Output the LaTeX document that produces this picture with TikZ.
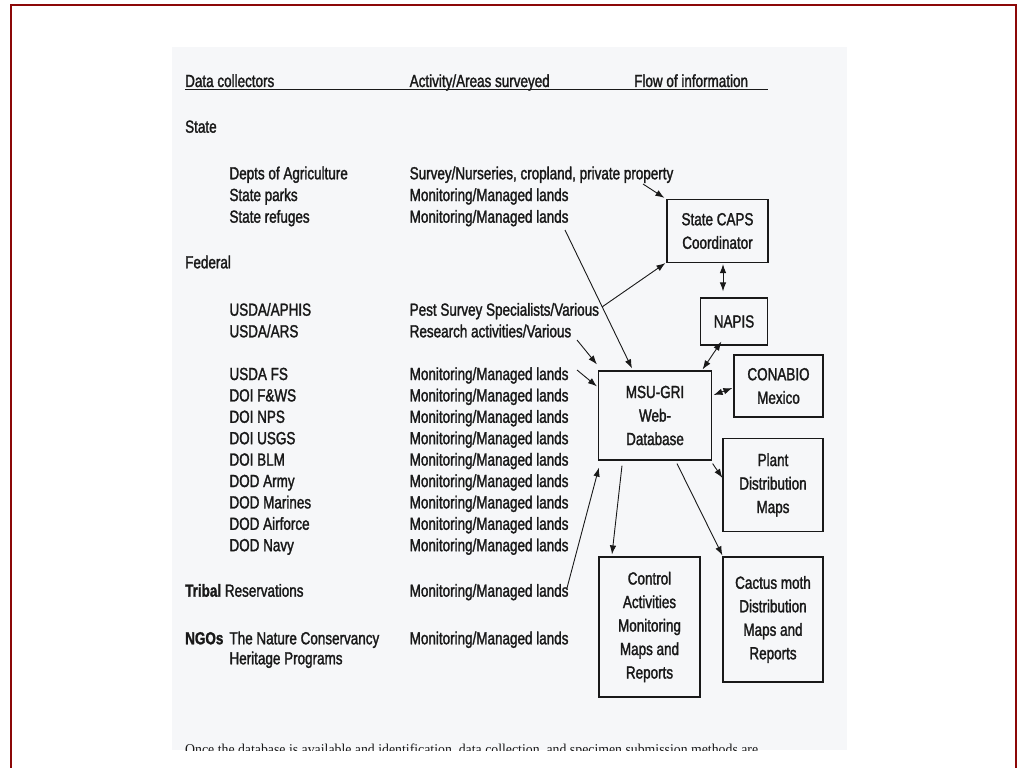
\documentclass[tikz,border=0pt]{standalone}
\usepackage{fontspec}
\setmainfont[FakeStretch=0.77,UprightFeatures={FakeBold=1.6},BoldFeatures={FakeBold=1.4}]{Liberation Sans}
\newfontfamily\bodyserif[FakeStretch=0.92]{Liberation Serif}
\usepackage{tikz}
\usetikzlibrary{calc}
\usetikzlibrary{arrows.meta}
\tikzset{>={Latex[length=9pt,width=6.5pt]}}
\usepackage{xcolor}
\definecolor{framecol}{RGB}{140,8,8}
\definecolor{pagecol}{RGB}{246,247,249}
\colorlet{inkcol}{black!90}
\newcommand\listfont{\fontsize{17.5}{21.5}\selectfont}
\newcommand\boxfont{\fontsize{17.5}{23.5}\selectfont}
\tikzset{
	txt/.style={anchor=base west,inner sep=0pt,font=\listfont,text=inkcol},
	flowbox/.style={draw=inkcol,line width=1.2pt,align=center,inner sep=0pt,font=\boxfont,text=inkcol},
	flow/.style={line width=0.9pt,draw=inkcol},
}

\begin{document}
\begin{tikzpicture}[x=1pt,y=-1pt]
	\useasboundingbox (0,0) rectangle (1018,768);
	\fill[pagecol] (172,47) rectangle (847,750);
	\draw[framecol,line width=2pt] (11,768) -- (11,5) -- (1016,5) -- (1016,768);
	
	% HEADINGS
	\node[txt] (hcoll) at (185,87) {Data collectors};
	\node[txt] (hact) at (409.5,87) {Activity/Areas surveyed};
	\node[txt] (hflow) at (634,87) {Flow of information};
	\draw[inkcol,line width=1.2pt] (185,89.5) -- (768,89.5);
	
	% STATE
	\node[txt] (state) at (185,132.7) {State};
	\node[txt] (agri) at (229.3,179.3) {Depts of Agriculture};
	\node[txt] (parks) at (229.3,201) {State parks};
	\node[txt] (refuges) at (229.3,222.7) {State refuges};
	\node[txt] (agriact) at (409.5,179.3) {Survey/Nurseries, cropland, private property};
	\node[txt] (parksact) at (409.5,201) {Monitoring/Managed lands};
	\node[txt] (refugesact) at (409.5,222.7) {Monitoring/Managed lands};
	
	% FEDERAL
	\node[txt] (federal) at (185,268.3) {Federal};
	\node[txt] (aphis) at (229.3,315.7) {USDA/APHIS};
	\node[txt] (ars) at (229.3,337.3) {USDA/ARS};
	\node[txt] (aphisact) at (409.5,315.7) {Pest Survey Specialists/Various};
	\node[txt] (arsact) at (409.5,337.3) {Research activities/Various};
	
	\node[txt] (fs) at (229.3,380) {USDA FS};
	\node[txt] (fws) at (229.3,401.4) {DOI F\&WS};
	\node[txt] (nps) at (229.3,422.8) {DOI NPS};
	\node[txt] (usgs) at (229.3,444.2) {DOI USGS};
	\node[txt] (blm) at (229.3,465.6) {DOI BLM};
	\node[txt] (army) at (229.3,487) {DOD Army};
	\node[txt] (marines) at (229.3,508.4) {DOD Marines};
	\node[txt] (airforce) at (229.3,529.8) {DOD Airforce};
	\node[txt] (navy) at (229.3,551.2) {DOD Navy};
	\node[txt] (fsact) at (409.5,380) {Monitoring/Managed lands};
	\node[txt] (fwsact) at (409.5,401.4) {Monitoring/Managed lands};
	\node[txt] (npsact) at (409.5,422.8) {Monitoring/Managed lands};
	\node[txt] (usgsact) at (409.5,444.2) {Monitoring/Managed lands};
	\node[txt] (blmact) at (409.5,465.6) {Monitoring/Managed lands};
	\node[txt] (armyact) at (409.5,487) {Monitoring/Managed lands};
	\node[txt] (marinesact) at (409.5,508.4) {Monitoring/Managed lands};
	\node[txt] (airforceact) at (409.5,529.8) {Monitoring/Managed lands};
	\node[txt] (navyact) at (409.5,551.2) {Monitoring/Managed lands};
	
	% TRIBAL AND NGOS
	\node[txt] (tribal) at (185,596.7) {\textbf{Tribal} Reservations};
	\node[txt] (tribalact) at (409.5,596.7) {Monitoring/Managed lands};
	\node[txt] (ngos) at (185,644.3) {\textbf{NGOs}};
	\node[txt] (tnc) at (229.3,644.3) {The Nature Conservancy};
	\node[txt] (herit) at (229.3,664.3) {Heritage Programs};
	\node[txt] (ngosact) at (409.5,644.3) {Monitoring/Managed lands};
	
	\begin{scope}
		\clip (172,47) rectangle (847,750);
		\node[anchor=base west,inner sep=0pt,text=inkcol,
		font=\bodyserif\fontsize{15}{18}\selectfont] (once) at (185,754)
		{Once the database is available and identification, data collection, and specimen submission methods are};
	\end{scope}
	
	% BOXES
	\node[flowbox,minimum width=101,minimum height=63] (caps) at (717.5,231) {State CAPS\\Coordinator};
	\node[flowbox,minimum width=67,minimum height=47] (napis) at (734,321.5) {NAPIS};
	\node[flowbox,minimum width=113,minimum height=89] (msu) at (655,415.5) {MSU-GRI\\Web-\\Database};
	\node[flowbox,minimum width=89,minimum height=62] (conabio) at (778.5,386) {CONABIO\\Mexico};
	\node[flowbox,minimum width=100,minimum height=93] (plant) at (773,485) {Plant\\Distribution\\Maps};
	\node[flowbox,minimum width=101,minimum height=140] (control) at (649.5,627) {Control\\Activities\\Monitoring\\Maps and\\Reports};
	\node[flowbox,minimum width=100,minimum height=125] (cactus) at (773,619.5) {Cactus moth\\Distribution\\Maps and\\Reports};
	
	% ARROWS
	\coordinate (t1) at (643,184);
	\coordinate (t2) at (565,230);
	\coordinate (t3) at (602,307);
	\coordinate (t7) at (577,340);
	\coordinate (t8) at (577,370);
	\coordinate (t9) at (567,588);
	\draw[flow,->] (t1) -- ([shift={(-2,-1)}]caps.north west);
	\draw[flow,->] (t2) -- ([shift={(-23,-2)}]msu.north);
	\draw[flow,->] (t3) -- ([shift={(-1,0)}]caps.south west);
	\draw[flow,<->] ([shift={(5.5,1)}]caps.south) -- ([shift={(-11,-6)}]napis.north);
	\draw[flow,<->] ([shift={(-9.5,-1)}]msu.north east) -- ([shift={(21.5,-4)}]napis.south west);
	\draw[flow,<->] ([shift={(1.5,-20.5)}]msu.east) -- ([shift={(-1,2)}]conabio.west);
	\draw[flow,->] (t7) -- ([shift={(-1,-6)}]msu.north west);
	\draw[flow,->] (t8) -- ([shift={(-1,16)}]msu.north west);
	\draw[flow,->] (t9) -- ([shift={(1,7)}]msu.south west);
	\draw[flow,->] ([shift={(-33,5)}]msu.south) -- ([shift={(-37.5,-2)}]control.north);
	\draw[flow,->] ([shift={(22,3)}]msu.south) -- ([shift={(0,-1)}]cactus.north west);
	\draw[flow,->] ([shift={(0.5,3)}]msu.south east) -- ([shift={(0,40)}]plant.north west);
\end{tikzpicture}
\end{document}
